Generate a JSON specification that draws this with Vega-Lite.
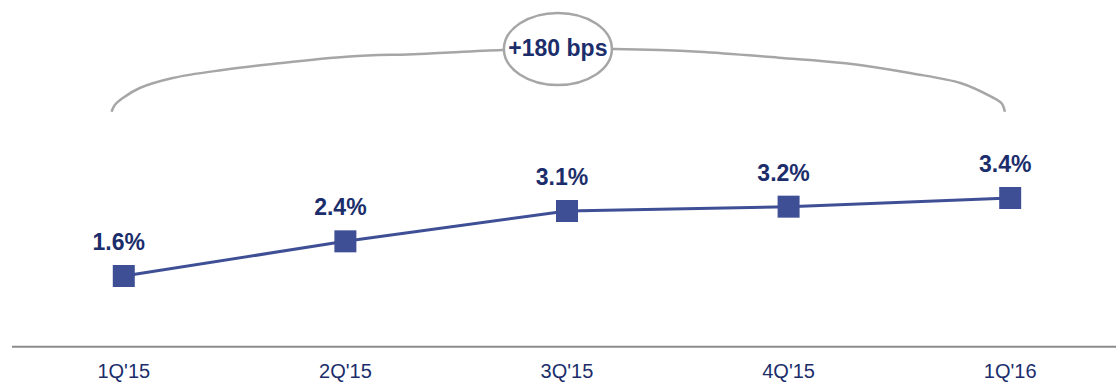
{
  "$schema": "https://vega.github.io/schema/vega-lite/v6.json",
  "width": 1118,
  "height": 383,
  "autosize": {"type": "fit", "contains": "padding"},
  "padding": 0,
  "background": "white",
  "config": {"view": {"stroke": null}},
  "datasets": {
    "main": [
      {"idx": 0, "quarter": "1Q'15", "rate": 1.6, "label": "1.6%"},
      {"idx": 1, "quarter": "2Q'15", "rate": 2.4, "label": "2.4%"},
      {"idx": 2, "quarter": "3Q'15", "rate": 3.1, "label": "3.1%"},
      {"idx": 3, "quarter": "4Q'15", "rate": 3.2, "label": "3.2%"},
      {"idx": 4, "quarter": "1Q'16", "rate": 3.4, "label": "3.4%"}
    ],
    "bracket": [
      {"bx": -0.0554, "by": 5.391},
      {"bx": -0.0405, "by": 5.546},
      {"bx": -0.0045, "by": 5.707},
      {"bx": 0.0721, "by": 5.938},
      {"bx": 0.2207, "by": 6.169},
      {"bx": 0.4459, "by": 6.354},
      {"bx": 0.6712, "by": 6.492},
      {"bx": 1.018, "by": 6.665},
      {"bx": 1.333, "by": 6.723},
      {"bx": 1.707, "by": 6.815},
      {"bx": 1.959, "by": 6.838},
      {"bx": 2.2117, "by": 6.838},
      {"bx": 2.5946, "by": 6.776},
      {"bx": 2.955, "by": 6.637},
      {"bx": 3.257, "by": 6.508},
      {"bx": 3.554, "by": 6.277},
      {"bx": 3.779, "by": 6.047},
      {"bx": 3.914, "by": 5.737},
      {"bx": 3.961, "by": 5.585},
      {"bx": 3.976, "by": 5.391}
    ],
    "callout": [{"cx": 1.959, "cy": 6.838, "text": "+180 bps"}],
    "baseline": [{"x0": -0.5045, "x1": 4.4775, "y": -0.03}]
  },
  "layer": [
    {
      "data": {"name": "baseline"},
      "mark": {"type": "rule", "color": "#8C8C8C", "strokeWidth": 2},
      "encoding": {
        "x": {"field": "x0", "type": "quantitative", "scale": {"domain": [-0.55856, 4.47748], "nice": false, "zero": false}, "axis": null},
        "x2": {"field": "x1"},
        "y": {"field": "y", "type": "quantitative", "scale": {"domain": [-0.869, 7.969], "nice": false, "zero": false}, "axis": null}
      }
    },
    {
      "data": {"name": "bracket"},
      "mark": {"type": "line", "color": "#A6A6A6", "strokeWidth": 2.5, "interpolate": "catmull-rom"},
      "encoding": {
        "x": {"field": "bx", "type": "quantitative", "scale": {"domain": [-0.55856, 4.47748], "nice": false, "zero": false}, "axis": null},
        "y": {"field": "by", "type": "quantitative", "scale": {"domain": [-0.869, 7.969], "nice": false, "zero": false}, "axis": null}
      }
    },
    {
      "data": {"name": "callout"},
      "mark": {"type": "point", "filled": false, "fill": "white", "fillOpacity": 1, "stroke": "#A6A6A6", "strokeWidth": 2.5, "opacity": 1, "size": 11664,
        "shape": "M -1 0 C -1 -0.368 -0.552 -0.667 0 -0.667 C 0.552 -0.667 1 -0.368 1 0 C 1 0.368 0.552 0.667 0 0.667 C -0.552 0.667 -1 0.368 -1 0 Z"},
      "encoding": {
        "x": {"field": "cx", "type": "quantitative", "scale": {"domain": [-0.55856, 4.47748], "nice": false, "zero": false}, "axis": null},
        "y": {"field": "cy", "type": "quantitative", "scale": {"domain": [-0.869, 7.969], "nice": false, "zero": false}, "axis": null}
      }
    },
    {
      "data": {"name": "callout"},
      "mark": {"type": "text", "font": "Liberation Sans", "fontWeight": "bold", "fontSize": 23, "color": "#1B2D6B", "align": "center", "baseline": "middle"},
      "encoding": {
        "x": {"field": "cx", "type": "quantitative", "scale": {"domain": [-0.55856, 4.47748], "nice": false, "zero": false}, "axis": null},
        "y": {"field": "cy", "type": "quantitative", "scale": {"domain": [-0.869, 7.969], "nice": false, "zero": false}, "axis": null},
        "text": {"field": "text"}
      }
    },
    {
      "data": {"name": "main"},
      "mark": {"type": "line", "color": "#3F4F95", "strokeWidth": 3},
      "encoding": {
        "x": {"field": "idx", "type": "quantitative", "scale": {"domain": [-0.55856, 4.47748], "nice": false, "zero": false}, "axis": null},
        "y": {"field": "rate", "type": "quantitative", "scale": {"domain": [-0.869, 7.969], "nice": false, "zero": false}, "axis": null}
      }
    },
    {
      "data": {"name": "main"},
      "mark": {"type": "point", "shape": "square", "filled": true, "color": "#3F4F95", "opacity": 1, "size": 484},
      "encoding": {
        "x": {"field": "idx", "type": "quantitative", "scale": {"domain": [-0.55856, 4.47748], "nice": false, "zero": false}, "axis": null},
        "y": {"field": "rate", "type": "quantitative", "scale": {"domain": [-0.869, 7.969], "nice": false, "zero": false}, "axis": null}
      }
    },
    {
      "data": {"name": "main"},
      "mark": {"type": "text", "font": "Liberation Sans", "fontWeight": "bold", "fontSize": 23, "color": "#1B2D6B", "align": "center", "baseline": "middle", "dx": -5, "dy": -33},
      "encoding": {
        "x": {"field": "idx", "type": "quantitative", "scale": {"domain": [-0.55856, 4.47748], "nice": false, "zero": false}, "axis": null},
        "y": {"field": "rate", "type": "quantitative", "scale": {"domain": [-0.869, 7.969], "nice": false, "zero": false}, "axis": null},
        "text": {"field": "label"}
      }
    },
    {
      "data": {"name": "main"},
      "mark": {"type": "text", "font": "Liberation Sans", "fontSize": 20, "color": "#1B2D6B", "align": "center", "baseline": "middle"},
      "encoding": {
        "x": {"field": "idx", "type": "quantitative", "scale": {"domain": [-0.55856, 4.47748], "nice": false, "zero": false}, "axis": null},
        "y": {"datum": -0.616, "type": "quantitative", "scale": {"domain": [-0.869, 7.969], "nice": false, "zero": false}, "axis": null},
        "text": {"field": "quarter"}
      }
    }
  ]
}
